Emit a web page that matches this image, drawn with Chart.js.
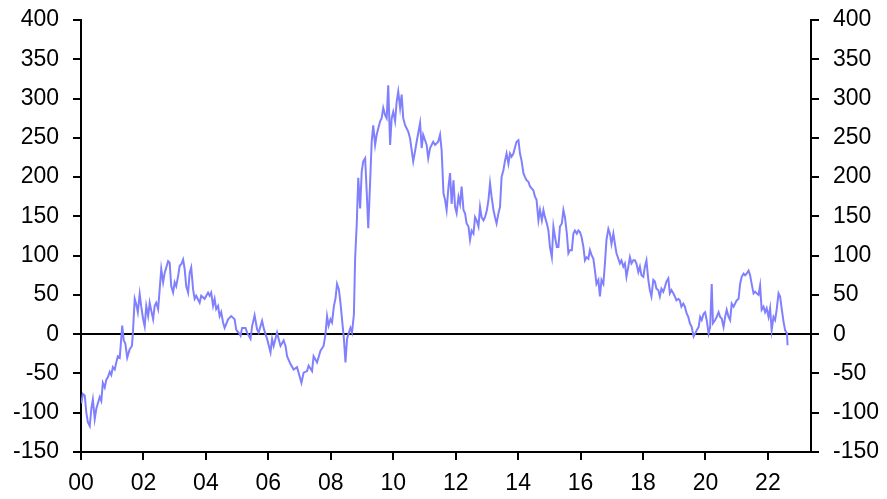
<!DOCTYPE html>
<html>
<head>
<meta charset="utf-8">
<script src="https://cdn.jsdelivr.net/npm/chart.js@4"></script>
<style>
html,body{margin:0;padding:0;background:#fff;}
#c{display:block;}
</style>
</head>
<body>
<canvas id="c" width="887" height="499"></canvas>
<script>
// Decimal-year dates and series values
const dates = [
2000.01,2000.06,2000.12,2000.17,2000.22,2000.28,2000.33,2000.38,2000.44,2000.49,2000.54,2000.60,2000.65,2000.70,2000.76,2000.81,2000.86,2000.92,2000.97,
2001.02,2001.08,2001.13,2001.18,2001.24,2001.29,2001.32,2001.37,2001.42,2001.48,2001.56,2001.63,2001.66,2001.72,2001.77,2001.82,2001.88,2001.93,2001.99,
2002.04,2002.09,2002.15,2002.20,2002.25,2002.31,2002.36,2002.41,2002.47,2002.52,2002.57,2002.63,2002.68,2002.79,2002.84,2002.89,2002.95,
2003.00,2003.05,2003.11,2003.16,2003.21,2003.27,2003.32,2003.37,2003.43,2003.48,2003.53,2003.59,2003.64,2003.69,2003.80,2003.85,2003.96,
2004.07,2004.12,2004.17,2004.23,2004.28,2004.33,2004.39,2004.44,2004.49,2004.55,2004.60,2004.71,2004.81,2004.92,2004.97,
2005.00,2005.05,2005.11,2005.16,2005.27,2005.32,2005.43,2005.48,2005.56,2005.64,2005.69,2005.80,2005.85,2005.91,2005.96,
2006.07,2006.12,2006.17,2006.28,2006.33,2006.39,2006.49,2006.55,2006.60,2006.71,2006.81,2006.92,2006.97,
2007.06,2007.13,2007.24,2007.29,2007.40,2007.45,2007.56,2007.67,2007.77,2007.83,2007.88,2007.93,2007.99,
2008.04,2008.10,2008.15,2008.20,2008.26,2008.31,2008.36,2008.42,2008.47,2008.52,2008.58,2008.63,2008.68,2008.74,2008.78,2008.83,2008.88,2008.94,2008.99,
2009.04,2009.10,2009.15,2009.20,2009.26,2009.31,2009.36,2009.42,2009.47,2009.52,2009.58,2009.63,2009.68,2009.74,2009.79,2009.84,2009.90,2009.95,
2010.00,2010.06,2010.11,2010.16,2010.22,2010.27,2010.32,2010.38,2010.48,2010.54,2010.64,2010.70,2010.75,2010.86,2010.91,2010.96,
2011.07,2011.12,2011.18,2011.28,2011.34,2011.44,2011.50,2011.55,2011.61,2011.66,2011.71,2011.77,2011.82,2011.87,2011.93,2011.98,
2012.03,2012.09,2012.14,2012.19,2012.25,2012.30,2012.35,2012.41,2012.46,2012.51,2012.57,2012.62,2012.67,2012.73,2012.78,2012.83,2012.89,2012.94,
2013.00,2013.05,2013.10,2013.15,2013.21,2013.26,2013.31,2013.37,2013.42,2013.47,2013.53,2013.58,2013.63,2013.69,2013.74,2013.79,2013.85,2013.90,2013.95,
2014.01,2014.06,2014.11,2014.17,2014.22,2014.27,2014.33,2014.38,2014.49,2014.54,2014.59,2014.65,2014.70,2014.76,2014.81,2014.86,2014.92,2014.97,
2015.02,2015.08,2015.13,2015.18,2015.24,2015.29,2015.34,2015.40,2015.45,2015.50,2015.56,2015.61,2015.66,2015.72,2015.77,2015.82,2015.88,2015.93,2015.98,
2016.03,2016.09,2016.14,2016.19,2016.25,2016.30,2016.35,2016.41,2016.46,2016.51,2016.57,2016.62,2016.67,2016.73,2016.78,2016.83,2016.89,2016.94,2016.99,
2017.05,2017.10,2017.15,2017.21,2017.26,2017.31,2017.37,2017.42,2017.47,2017.53,2017.58,2017.63,2017.69,2017.74,2017.79,2017.85,2017.90,2017.95,
2018.01,2018.06,2018.11,2018.17,2018.22,2018.27,2018.33,2018.38,2018.43,2018.49,2018.54,2018.59,2018.65,2018.70,2018.75,2018.81,2018.86,2018.91,2018.97,
2019.02,2019.07,2019.13,2019.18,2019.23,2019.29,2019.34,2019.40,2019.45,2019.50,2019.56,2019.62,2019.67,2019.72,2019.78,2019.83,2019.88,2019.94,2019.99,
2020.04,2020.10,2020.15,2020.20,2020.24,2020.31,2020.36,2020.42,2020.47,2020.52,2020.58,2020.63,2020.68,2020.74,2020.79,2020.84,2020.90,2020.95,
2021.00,2021.06,2021.11,2021.16,2021.22,2021.27,2021.32,2021.38,2021.43,2021.48,2021.54,2021.59,2021.64,2021.70,2021.75,2021.80,2021.86,2021.91,2021.96,
2022.02,2022.07,2022.12,2022.18,2022.23,2022.28,2022.34,2022.39,2022.44,2022.50,2022.55,2022.61,2022.63
];
const values = [
-88,-76,-78,-100,-112,-117,-95,-83,-108,-95,-88,-80,-85,-62,-68,-58,-55,-48,-52,
-42,-45,-36,-28,-30,-5,11,-8,-12,-30,-19,-15,0,45,38,28,51,35,19,
10,36,23,40,30,19,36,40,32,57,83,66,78,93,91,61,53,
66,61,74,87,89,95,83,61,53,78,85,57,45,49,40,49,45,
53,49,53,36,45,32,36,23,28,15,8,19,23,19,6,
4,2,-2,8,8,2,-6,10,24,6,2,17,8,0,-6,
-23,-6,-15,2,-6,-15,-8,-15,-28,-38,-45,-42,-49,
-62,-49,-47,-40,-47,-28,-36,-21,-15,0,23,11,19,
15,36,45,64,57,40,19,-6,-36,-6,2,8,2,25,97,139,199,160,207,
220,224,182,135,194,245,266,241,254,262,271,275,288,279,275,317,241,275,
283,271,296,309,288,305,275,266,258,249,220,233,245,269,237,254,
241,224,237,245,241,245,254,234,179,171,158,188,205,166,196,162,
154,175,166,188,158,154,141,137,120,132,128,149,145,137,162,149,145,149,
158,171,192,175,158,149,141,154,162,200,209,221,230,217,230,226,230,238,245,
247,230,221,205,200,196,194,188,183,175,171,145,158,145,158,149,141,132,
111,98,137,124,111,111,137,141,158,149,128,103,107,107,128,132,128,132,130,
124,111,94,98,96,107,101,96,81,64,69,48,69,64,90,120,134,128,115,
128,115,103,96,90,94,86,90,73,86,98,90,94,94,90,79,86,75,
73,86,94,69,56,48,69,67,58,56,48,58,54,60,67,71,52,56,52,
48,43,45,43,35,39,35,26,22,14,9,-3,1,5,9,22,18,26,28,
18,1,9,64,14,18,22,28,22,20,9,22,31,22,18,39,35,39,
43,45,64,73,77,75,77,81,75,64,52,54,52,50,62,31,35,28,33,
22,33,5,22,18,31,52,48,33,16,5,1,-14
];
const xTickYears = [2000,2002,2004,2006,2008,2010,2012,2014,2016,2018,2020,2022];
const yMin = -150, yMax = 400, yStep = 50;
const xMin = 2000, xMax = 2023.38;

const points = dates.map((d, i) => ({x: d, y: values[i]}));
const FONT = {family: '"Liberation Sans", Arial, sans-serif', size: 23};

function fitY(w) {
  return s => { s.width = w; s.paddingTop = 0; s.paddingBottom = 0; };
}

new Chart(document.getElementById('c'), {
  type: 'line',
  data: {
    datasets: [{
      data: points,
      borderColor: '#8080FF',
      borderWidth: 2,
      pointRadius: 0,
      tension: 0,
      fill: false
    }]
  },
  options: {
    responsive: false,
    animation: false,
    events: [],
    layout: {padding: {top: 20, right: 0, bottom: 0, left: 0}},
    plugins: {legend: {display: false}, tooltip: {enabled: false}, title: {display: false}},
    scales: {
      x: {
        type: 'linear',
        min: xMin, max: xMax,
        afterBuildTicks: s => { s.ticks = xTickYears.map(v => ({value: v})); },
        afterFit: s => { s.height = 47; s.paddingLeft = 0; s.paddingRight = 0; },
        border: {display: true, color: '#000', width: 2},
        grid: {drawOnChartArea: false, drawTicks: true, tickLength: 8, tickColor: '#000', lineWidth: 2},
        ticks: {
          color: '#000', font: FONT, padding: 10, maxRotation: 0, autoSkip: false,
          callback: v => String(Math.round(v) % 100).padStart(2, '0')
        }
      },
      y: {
        position: 'left',
        min: yMin, max: yMax,
        afterFit: fitY(81),
        border: {display: true, color: '#000', width: 2},
        grid: {
          drawOnChartArea: true, drawTicks: true, tickLength: 8, tickColor: '#000', lineWidth: 2,
          color: c => (c.tick && c.tick.value === 0) ? '#000' : 'rgba(0,0,0,0)'
        },
        ticks: {stepSize: yStep, color: '#000', font: FONT, padding: 14}
      },
      y2: {
        display: true,
        position: 'right',
        min: yMin, max: yMax,
        afterFit: fitY(76),
        border: {display: true, color: '#000', width: 2},
        grid: {drawOnChartArea: false, drawTicks: true, tickLength: 8, tickColor: '#000', lineWidth: 2},
        ticks: {stepSize: yStep, color: '#000', font: FONT, padding: 14}
      }
    }
  }
});
</script>
</body>
</html>
